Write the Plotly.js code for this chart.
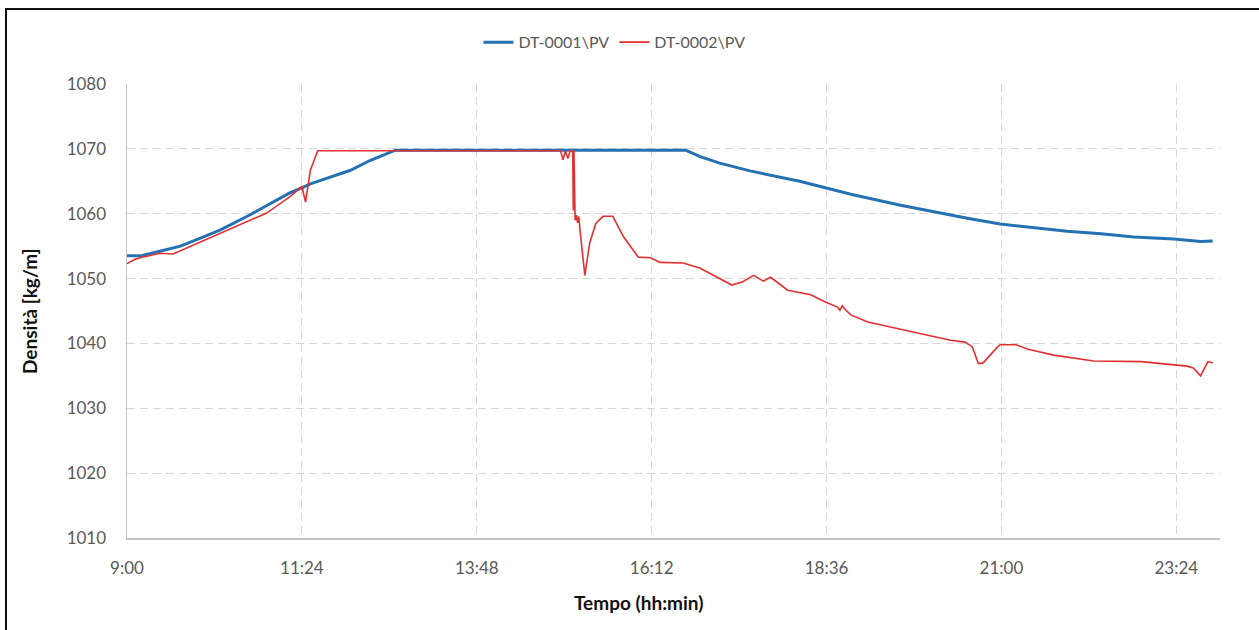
<!DOCTYPE html>
<html>
<head>
<meta charset="utf-8">
<script src="https://cdn.plot.ly/plotly-3.0.1.min.js"></script>
<style>
  html, body { margin: 0; padding: 0; background: #ffffff; }
  #wrap { position: relative; width: 1259px; height: 630px; overflow: hidden; }
  #chart { position: absolute; left: 0; top: 0; width: 1259px; height: 630px; }
  #frame { position: absolute; left: 5px; top: 8px; width: 1300px; height: 700px;
           border-top: 2px solid #111; border-left: 2px solid #111; pointer-events: none; }
</style>
</head>
<body>
<div id="wrap">
  <div id="chart"></div>
  <div id="frame"></div>
</div>
<script>
// ---- data ----
const seriesNames = ["DT-0001\\PV", "DT-0002\\PV"];

const dt1Times = ["9:00","9:11","9:27","9:44","10:00","10:17","10:41","11:14","11:24","11:31","12:04","12:20","12:41",
  "16:40","16:52","17:08","17:33","18:14","18:35","18:56","19:37","20:04","20:32","20:59","21:26","21:54",
  "22:22","22:49","23:22","23:44","23:54"];
const dt1Values = [1053.5,1053.5,1054.2,1055.0,1056.2,1057.5,1059.8,1063.2,1064.0,1064.6,1066.7,1068.2,1069.8,
  1069.8,1068.8,1067.8,1066.6,1065.0,1064.0,1063.0,1061.3,1060.3,1059.3,1058.4,1057.9,1057.3,
  1056.9,1056.4,1056.1,1055.7,1055.8];

const dt2Times = ["9:00","9:07","9:11","9:27","9:38","10:00","10:27","10:55","11:14","11:22","11:24","11:27","11:31","11:37",
  "14:57","14:59","15:01","15:03","15:05","15:07","15:07:30","15:08","15:09","15:10","15:11","15:12","15:13",
  "15:17","15:21","15:26","15:32","15:40","15:49","16:01","16:11","16:19","16:38","16:52","17:03",
  "17:18","17:27","17:36","17:44","17:50","18:04","18:14","18:23","18:35","18:45","18:47","18:49","18:51",
  "18:56","19:10","19:29","19:48","20:04","20:18","20:30","20:36","20:41","20:45","20:57","20:59",
  "21:12","21:22","21:43","22:03","22:16","22:55","23:05","23:33","23:38","23:44","23:50","23:54"];
const dt2Values = [1052.3,1053.0,1053.2,1053.9,1053.8,1055.6,1057.8,1060.1,1062.6,1064.0,1064.2,1061.8,1066.7,1069.7,
  1069.7,1068.3,1069.7,1068.5,1069.7,1069.7,1060.5,1069.7,1059.0,1059.8,1058.6,1059.6,1057.5,
  1050.5,1055.5,1058.5,1059.6,1059.6,1056.4,1053.3,1053.2,1052.5,1052.4,1051.6,1050.5,
  1049.0,1049.5,1050.5,1049.6,1050.2,1048.2,1047.8,1047.5,1046.4,1045.6,1045.1,1045.8,1045.3,
  1044.4,1043.3,1042.5,1041.8,1041.1,1040.5,1040.2,1039.5,1036.9,1037.0,1039.5,1039.8,
  1039.8,1039.1,1038.2,1037.7,1037.3,1037.2,1037.0,1036.5,1036.2,1035.0,1037.2,1037.0];

const xTickLabels = ["9:00","11:24","13:48","16:12","18:36","21:00","23:24"];
const yTicks = [1010,1020,1030,1040,1050,1060,1070,1080];

// ---- helpers ----
function toHours(s) {
  const p = s.split(":").map(Number);
  return p[0] + (p[1] || 0) / 60 + (p[2] || 0) / 3600;
}

const font = "Lato, 'Open Sans', sans-serif";

const traces = [
  {
    x: dt1Times.map(toHours), y: dt1Values, name: seriesNames[0],
    type: "scatter", mode: "lines",
    line: { color: "#2471b3", width: 3 }
  },
  {
    x: dt2Times.map(toHours), y: dt2Values, name: seriesNames[1],
    type: "scatter", mode: "lines",
    line: { color: "#e2302f", width: 1.6 }
  }
];

const layout = {
  width: 1259, height: 630,
  margin: { l: 127, r: 39, t: 84, b: 92 },
  paper_bgcolor: "rgba(0,0,0,0)",
  plot_bgcolor: "#ffffff",
  font: { family: font, color: "#595959", size: 15 },
  showlegend: true,
  legend: {
    orientation: "h", x: 0.446, xanchor: "center", y: 1.092, yanchor: "middle",
    font: { family: font, size: 16, color: "#595959" },
    bgcolor: "rgba(0,0,0,0)"
  },
  xaxis: {
    range: [9, 24],
    tickmode: "array",
    tickvals: xTickLabels.map(toHours),
    ticktext: xTickLabels,
    showgrid: true, gridcolor: "#d6d6d6", griddash: "8px,5px", gridwidth: 1,
    showline: true, linecolor: "#c4c4c4", linewidth: 1.5,
    ticks: "", ticklabelstandoff: 14,
    tickfont: { family: font, size: 17, color: "#595959" },
    zeroline: false, fixedrange: true
  },
  yaxis: {
    range: [1010, 1080],
    tickmode: "array", tickvals: yTicks,
    showgrid: true, gridcolor: "#d6d6d6", griddash: "8px,5px", gridwidth: 1,
    showline: true, linecolor: "#c4c4c4", linewidth: 1.5,
    ticks: "", ticklabelstandoff: 16,
    tickfont: { family: font, size: 17, color: "#595959" },
    zeroline: false, fixedrange: true
  },
  annotations: [
    {
      text: "<b>Tempo (hh:min)</b>", xref: "paper", yref: "paper",
      x: 0.468, y: -0.143, xanchor: "center", yanchor: "middle", showarrow: false,
      font: { family: font, size: 19, color: "#111111" }
    },
    {
      text: "<b>Densità [kg/m]</b>", xref: "paper", yref: "paper",
      x: -0.0887, y: 0.498, xanchor: "center", yanchor: "middle", textangle: -90, showarrow: false,
      font: { family: font, size: 19, color: "#111111" }
    }
  ]
};

Plotly.newPlot("chart", traces, layout, { displayModeBar: false, staticPlot: true });
</script>
</body>
</html>
